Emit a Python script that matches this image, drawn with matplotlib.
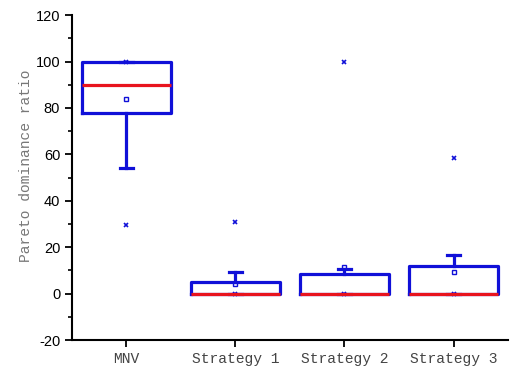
import matplotlib.pyplot as plt
from matplotlib.ticker import MultipleLocator

plt.rcParams["axes.unicode_minus"] = False

categories = ["MNV", "Strategy 1", "Strategy 2", "Strategy 3"]
q1 = [78, 0, 0, 0]
med = [90, 0, 0, 0]
q3 = [100, 4.9, 8.3, 11.9]
whislo = [54, 0, 0, 0]
whishi = [100, 9.2, 10.6, 16.6]
means = [84, 4.1, 11.6, 9.5]
fliers = [[29.5, 100], [0, 31], [0, 100], [0, 58.3]]

blue = "#1010d8"
red = "#e8141e"

stats = []
for i, name in enumerate(categories):
    stats.append({"label": name, "q1": q1[i], "med": med[i], "q3": q3[i],
                  "whislo": whislo[i], "whishi": whishi[i],
                  "mean": means[i], "fliers": fliers[i]})

fig = plt.figure(figsize=(5.12, 3.70), dpi=100)
ax = fig.add_axes([0.1406, 0.081, 0.8516, 0.878])

ax.bxp(stats, widths=0.81, capwidths=0.12, showmeans=True,
       boxprops=dict(color=blue, linewidth=2.3),
       whiskerprops=dict(color=blue, linewidth=2.3),
       capprops=dict(color=blue, linewidth=2.3),
       medianprops=dict(color=red, linewidth=2.3),
       meanprops=dict(marker="s", markersize=3.5, markerfacecolor="none",
                      markeredgecolor=blue, markeredgewidth=1),
       flierprops=dict(marker="x", markersize=3.5, markeredgecolor=blue,
                       markeredgewidth=1.2))

ax.set_xlim(0.5, 4.5)
ax.set_ylim(-20, 120)
ax.yaxis.set_major_locator(MultipleLocator(20))
ax.yaxis.set_minor_locator(MultipleLocator(10))
ax.spines["top"].set_visible(False)
ax.spines["right"].set_visible(False)
ax.spines["left"].set_linewidth(1.5)
ax.spines["bottom"].set_linewidth(1.5)
ax.tick_params(axis="both", direction="out", width=1.3, length=5)
ax.tick_params(axis="y", which="minor", length=3, width=1.2)
for t in ax.get_yticklabels():
    t.set_fontfamily("Liberation Sans")
    t.set_fontsize(10.5)
for t in ax.get_xticklabels():
    t.set_fontfamily("Liberation Mono")
    t.set_fontsize(10.5)
    t.set_color("#444444")
ax.set_ylabel("Pareto dominance ratio", family="Liberation Mono",
              fontsize=10.5, color="#777777")
ax.yaxis.set_label_coords(-0.09, 0.535)

fig.savefig("out.png", dpi=100)
